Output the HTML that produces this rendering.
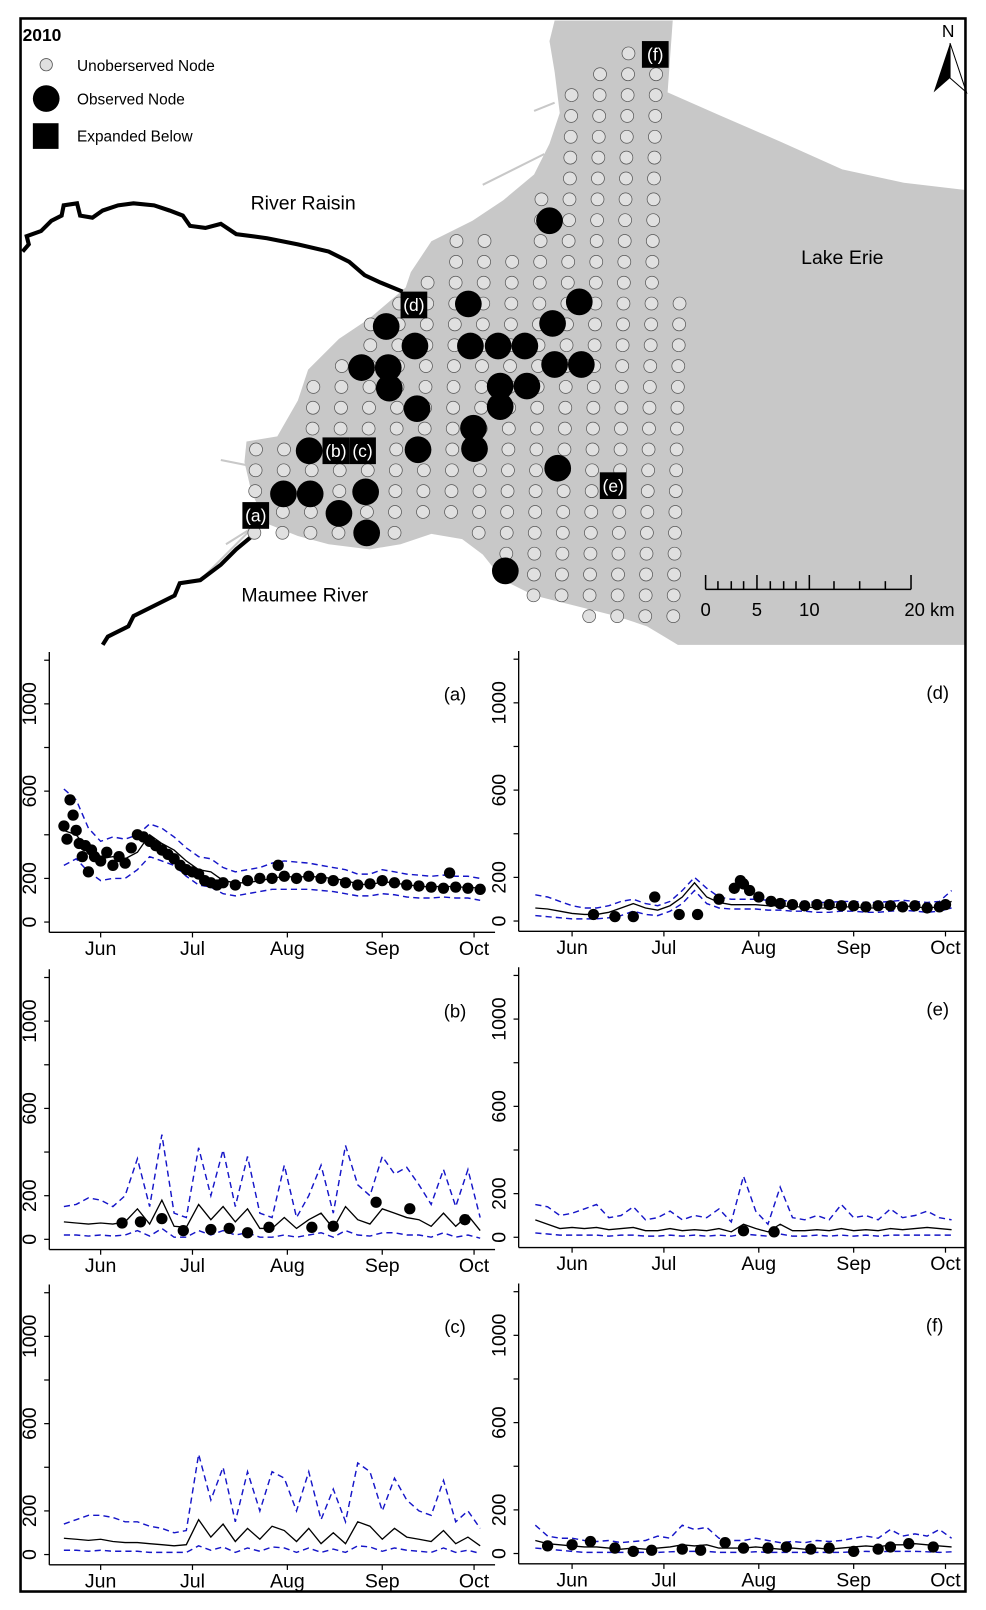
<!DOCTYPE html>
<html><head><meta charset="utf-8">
<style>
html,body{margin:0;padding:0;background:#fff;}
svg{display:block;font-family:"Liberation Sans",Arial,sans-serif;}
</style></head>
<body>
<svg id="fig" width="986" height="1610" viewBox="0 0 960 1568" preserveAspectRatio="none" xmlns="http://www.w3.org/2000/svg">
<rect x="0" y="0" width="960" height="1568" fill="#fff"/>
<g id="map">
  <polygon fill="#c8c8c8" points="540,20 655,20 650,90 700,112 760,138 820,165 880,178 940,185 940,628 660,628 630,610 600,600 560,590 520,580 490,565 470,540 450,525 420,520 390,530 360,535 320,530 290,522 260,510 245,480 238,450 240,430 270,425 290,390 300,360 330,330 360,310 395,280 400,265 420,235 460,215 490,195 520,170 535,140 545,110 540,70 535,40"/>
  <g stroke="#c8c8c8" stroke-width="2" fill="none">
    <path d="M540,100 L520,108 M530,150 L470,180 M250,455 L215,448 M260,505 L220,530 M270,500 L240,520 L200,560"/>
  </g>
  <path fill="none" stroke="#000" stroke-width="4" d="M22,245 L28,238 L26,230 L40,225 L50,215 L60,210 L62,200 L75,198 L78,210 L90,212 L100,205 L115,200 L130,198 L150,200 L165,205 L178,210 L185,220 L200,222 L215,218 L230,228 L260,232 L290,238 L320,245 L340,255 L355,268 L370,275 L392,284"/>
  <path fill="none" stroke="#000" stroke-width="4" d="M100,628 L105,620 L125,610 L130,600 L150,590 L170,580 L175,568 L195,565 L215,550 L230,535 L248,520"/>
  <g id="grid"></g>
  <g id="obsnodes"></g>
  <g id="nodelabels"></g>
  <text x="22" y="40" font-size="17" font-weight="bold">2010</text>
  <g>
    <circle cx="45" cy="63" r="6" fill="#e0e0e0" stroke="#555" stroke-width="0.8"/>
    <text x="75" y="69" font-size="15">Unoberserved Node</text>
    <circle cx="45" cy="96" r="13" fill="#000"/>
    <text x="75" y="102" font-size="15">Observed Node</text>
    <rect x="32" y="120" width="25" height="25" fill="#000"/>
    <text x="75" y="138" font-size="15">Expanded Below</text>
  </g>
  <text x="244" y="204" font-size="19">River Raisin</text>
  <text x="780" y="257" font-size="19">Lake Erie</text>
  <text x="235" y="586" font-size="19">Maumee River</text>
  <g>
    <text x="917" y="36" font-size="17">N</text>
    <polygon points="925,42 909,90 925,76" fill="#000"/>
    <polygon points="925,42 941,90 925,76" fill="#fff" stroke="#000" stroke-width="1"/>
  </g>
  <g id="scalebar" stroke="#000" stroke-width="1.5"></g>
</g>
<g id="charts"></g>
<rect x="20" y="18" width="920" height="1532" fill="none" stroke="#000" stroke-width="2.5"/>
</svg>
<script>
const NS='http://www.w3.org/2000/svg';
function mk(tag,attrs,parent){const e=document.createElementNS(NS,tag);for(const k in attrs)e.setAttribute(k,attrs[k]);parent.appendChild(e);return e;}

// ---------- map data ----------
const gridCols=[[19,23],[19,23],[16,23],[15,23],[13,23],[12,23],[11,22],[9,22],[9,23],[10,24],[7,26],[2,26],[1,27],[0,27],[1,27],[12,27]];
const obsX=[535,456,564,376,404,538,458,485,511,352,378,540,566,379,487,513,406,487,461,301,407,462,543,276,302,356,330,357,492];
const obsY=[215,296,294,318,337,315,337,337,337,358,358,355,355,378,376,376,398,396,417,439,438,437,456,481,481,479,500,519,556];
const labTxt=['(a)','(b)','(c)','(d)','(e)','(f)'];
const labX=[249,327,353,403,597,638];
const labY=[502,439,439,297,473,53];

const grid=document.getElementById('grid');
gridCols.forEach((r,c)=>{
  for(let k=r[0];k<=r[1];k++){
    const y=52+20.3*k;
    const x=257+27.3*c-0.02*(y-52);
    const e=mk('circle',{cx:x,cy:y,r:6.3,fill:'#e0e0e0',stroke:'#555','stroke-width':0.7},grid);
    
    
  }
});
const og=document.getElementById('obsnodes');
obsX.forEach((x,i)=>{
  const e=mk('circle',{cx:x,cy:obsY[i],r:13,fill:'#000'},og);
  
  
});
const lg=document.getElementById('nodelabels');
labTxt.forEach((t,i)=>{
  const g=mk('g',{},lg);
  
  
  mk('rect',{x:labX[i]-13,y:labY[i]-13,width:26,height:26,fill:'#000'},g);
  const tx=mk('text',{x:labX[i],y:labY[i]+6,'font-size':17,fill:'#fff','text-anchor':'middle'},g);
  tx.textContent=t;
});
// scale bar
const sb=document.getElementById('scalebar');
mk('line',{x1:687,y1:574,x2:887,y2:574},sb);
[687,737,788,887].forEach(x=>mk('line',{x1:x,y1:574,x2:x,y2:560},sb));
[699,712,724,750,763,775,812,837,862].forEach(x=>mk('line',{x1:x,y1:574,x2:x,y2:566},sb));
[['0',687],['5',737],['10',788],['20 km',905]].forEach(a=>{const t=mk('text',{x:a[1],y:600,'font-size':18,'text-anchor':'middle',stroke:'none'},sb);t.textContent=a[0];});

// ---------- chart data ----------
const days=[-12,-8,-4,0,4,8,12,16,20,24,28,32,36,40,44,48,52,56,60,64,68,72,76,80,84,88,92,96,100,104,108,112,116,120,124];
const monthLabels=['Jun','Jul','Aug','Sep','Oct'];
const monthDays=[0,30,61,92,122];
const yTickVals=[0,200,400,600,800,1000,1200];
const yTickLabels=['0','200','','600','','1000',''];

const meanA=[420,400,330,290,300,290,320,400,360,330,280,240,230,190,180,180,190,200,210,205,210,205,200,190,175,170,185,180,170,165,160,165,160,160,155];
const upA=[610,560,430,370,390,380,400,450,430,390,340,300,290,250,230,240,250,270,280,275,270,260,250,240,220,220,240,230,220,215,210,215,210,210,200];
const loA=[260,290,230,190,200,200,240,300,280,260,210,170,160,130,120,130,140,150,150,150,150,145,140,130,120,120,130,125,115,110,110,115,110,110,100];
const obsDA=[-12,-11,-10,-9,-8,-7,-6,-5,-4,-3,-2,0,2,4,6,8,10,12,14,16,18,20,22,24,26,28,30,32,34,36,38,40,44,48,52,56,58,60,64,68,72,76,80,84,88,92,96,100,104,108,112,114,116,120,124];
const obsVA=[440,380,560,490,420,360,300,350,230,330,300,280,320,260,300,270,340,400,390,370,350,330,310,290,260,240,230,220,190,180,170,180,170,190,200,200,260,210,200,210,200,190,180,170,175,190,180,170,165,160,155,225,160,155,150];

const meanB=[80,75,70,75,70,80,140,70,180,60,55,160,90,150,80,140,50,50,100,50,90,120,50,150,90,70,140,120,100,90,60,120,60,110,40];
const upB=[150,160,190,180,150,200,370,150,480,120,100,420,200,410,150,380,120,100,340,100,200,340,120,430,250,200,380,300,330,250,160,320,150,320,100];
const loB=[20,20,15,20,15,20,40,15,50,10,10,40,20,40,20,30,10,10,20,10,20,30,10,40,20,15,30,30,20,20,10,30,10,20,5];
const obsDB=[7,13,20,27,36,42,48,55,69,76,90,101,119];
const obsVB=[75,80,95,40,45,50,30,55,55,60,170,140,90];

const meanC=[75,70,65,70,60,55,55,50,45,40,45,160,80,140,60,120,70,130,110,60,120,50,100,50,150,130,70,120,80,70,60,110,50,80,40];
const upC=[140,160,180,180,170,150,150,130,120,100,110,460,250,400,150,380,200,380,350,200,380,160,300,150,420,380,200,350,250,200,180,340,150,200,120];
const loC=[20,20,15,20,15,15,15,10,10,10,10,40,20,35,10,30,15,35,30,10,30,10,25,10,40,35,15,30,20,15,10,30,10,20,5];
const obsDC=[];
const obsVC=[];

const meanD=[60,55,45,35,30,30,40,60,80,60,50,70,110,175,110,85,75,75,75,70,70,65,65,60,60,65,65,60,60,65,70,65,60,65,90];
const upD=[120,110,90,70,60,60,70,90,100,80,70,90,140,200,150,110,100,100,100,95,95,90,90,85,85,90,90,85,85,90,95,90,85,90,140];
const loD=[25,20,15,10,10,10,15,25,45,30,25,45,80,140,80,60,55,55,55,50,50,45,45,40,40,45,45,40,40,45,50,45,40,45,60];
const obsDD=[7,14,20,27,35,41,48,53,55,56,58,61,65,68,72,76,80,84,88,92,96,100,104,108,112,116,120,122];
const obsVD=[30,20,20,110,30,30,100,150,185,170,140,110,90,80,75,70,75,75,70,70,65,70,70,65,70,60,65,75];

const meanE=[80,60,40,45,40,45,35,40,45,30,30,40,30,35,30,40,25,60,40,25,60,30,30,35,30,40,30,35,30,40,35,40,45,40,35];
const upE=[150,140,100,110,130,150,90,100,140,80,90,120,80,100,90,130,70,280,120,60,230,90,80,100,80,150,90,100,80,130,90,100,120,90,80];
const loE=[20,15,10,10,10,10,5,10,10,5,5,10,5,10,5,10,5,15,10,5,15,5,5,10,5,10,5,10,5,10,10,10,10,10,10];
const obsDE=[56,66];
const obsVE=[30,25];

const meanF=[60,45,40,35,30,30,25,20,25,20,25,30,40,35,40,25,25,25,30,25,20,25,20,25,20,25,30,35,30,40,40,45,40,35,30];
const upF=[130,80,70,70,60,55,60,50,55,60,80,70,130,110,120,70,60,60,70,60,50,55,50,60,55,60,70,80,70,110,80,90,80,110,70];
const loF=[25,20,15,10,5,5,5,5,5,5,5,8,10,10,10,5,5,5,8,5,5,5,5,5,5,5,8,10,8,10,10,10,8,5,8];
const obsDF=[-8,0,6,14,20,26,36,42,50,56,64,70,78,84,92,100,104,110,118];
const obsVF=[35,40,55,25,10,15,20,15,50,25,25,30,20,25,10,20,30,45,30];

const panels=[
 {id:'a',axisX:48,xJun:98,zero:898,right:482,mean:meanA,up:upA,lo:loA,od:obsDA,ov:obsVA,lx:443},
 {id:'b',axisX:48,xJun:98,zero:1207,right:482,mean:meanB,up:upB,lo:loB,od:obsDB,ov:obsVB,lx:443},
 {id:'c',axisX:48,xJun:98,zero:1514,right:482,mean:meanC,up:upC,lo:loC,od:obsDC,ov:obsVC,lx:443},
 {id:'d',axisX:505,xJun:557,zero:897,right:940,mean:meanD,up:upD,lo:loD,od:obsDD,ov:obsVD,lx:913},
 {id:'e',axisX:505,xJun:557,zero:1205,right:940,mean:meanE,up:upE,lo:loE,od:obsDE,ov:obsVE,lx:913},
 {id:'f',axisX:505,xJun:557,zero:1513,right:940,mean:meanF,up:upF,lo:loF,od:obsDF,ov:obsVF,lx:910}
];
const charts=document.getElementById('charts');
panels.forEach(p=>{
  const xs=d=>p.xJun+d*2.98;
  const ys=v=>p.zero-v*0.2125;
  const g=mk('g',{},charts);
  
  
  const ya=mk('line',{x1:p.axisX,y1:ys(1200)-8,x2:p.axisX,y2:p.zero+10,stroke:'#000','stroke-width':1.3},g);
  
  
  const xa=mk('line',{x1:p.axisX,y1:p.zero+10,x2:p.right,y2:p.zero+10,stroke:'#000','stroke-width':1.3},g);
  
  
  yTickVals.forEach((v,i)=>{
    mk('line',{x1:p.axisX-5,y1:ys(v),x2:p.axisX,y2:ys(v),stroke:'#000','stroke-width':1.2},g);
    if(yTickLabels[i]){
      const t=mk('text',{x:0,y:0,'font-size':19,'text-anchor':'middle',transform:`translate(${p.axisX-13},${ys(v)}) rotate(-90)`},g);
      
      
      t.textContent=yTickLabels[i];
    }
  });
  monthDays.forEach((d,i)=>{
    mk('line',{x1:xs(d),y1:p.zero+10,x2:xs(d),y2:p.zero+15,stroke:'#000','stroke-width':1.2},g);
    const t=mk('text',{x:xs(d),y:p.zero+32,'font-size':19,'text-anchor':'middle'},g);
    
    
    t.textContent=monthLabels[i];
  });
  const pl=mk('text',{x:p.lx,y:p.zero-216,'font-size':18,'text-anchor':'middle'},g);
  
  
  pl.textContent='('+p.id+')';
  const pts=a=>days.map((d,i)=>xs(d).toFixed(1)+','+ys(a[i]).toFixed(1)).join(' ');
  const u=mk('polyline',{points:pts(p.up),fill:'none',stroke:'#1515c8','stroke-width':1.4,'stroke-dasharray':'6,4'},g);
  
  
  const l=mk('polyline',{points:pts(p.lo),fill:'none',stroke:'#1515c8','stroke-width':1.4,'stroke-dasharray':'6,4'},g);
  
  
  const m=mk('polyline',{points:pts(p.mean),fill:'none',stroke:'#000','stroke-width':1.3},g);
  
  
  p.od.forEach((d,i)=>{
    const c=mk('circle',{cx:xs(d),cy:ys(p.ov[i]),r:5.5,fill:'#000'},g);
    
    
  });
});
</script>
</body></html>
